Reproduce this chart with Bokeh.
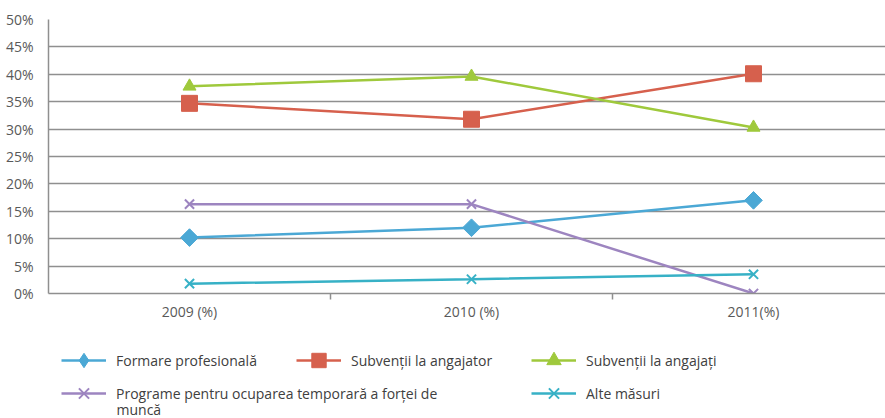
import math
from bokeh.plotting import figure
from bokeh.layouts import column
from bokeh.models import FixedTicker, PrintfTickFormatter, Legend, LegendItem, Label, Range1d
from bokeh.embed import file_html
from bokeh.resources import INLINE

years = ["2009 (%)", "2010 (%)", "2011(%)"]
formare = [10.2, 12.0, 17.0]
angajator = [34.7, 31.8, 40.1]
angajati = [37.8, 39.6, 30.3]
programe = [16.3, 16.3, 0.0]
alte = [1.8, 2.6, 3.5]
y_ticks = [0, 5, 10, 15, 20, 25, 30, 35, 40, 45, 50]

names = ["Formare profesională", "Subvenții la angajator", "Subvenții la angajați",
         "Programe pentru ocuparea temporară a forței de", "Alte măsuri"]
wrap_tail = "muncă"

x = list(range(len(years)))

FONT = "Open Sans"
GRID = "#8f8f8f"
W = 885

p = figure(width=W, height=335, output_backend="svg", toolbar_location=None,
           x_range=Range1d(-0.5, -0.5 + (W - 48) / 282), y_range=Range1d(0, 50),
           min_border_left=48, min_border_right=0, min_border_top=19, min_border_bottom=42)
p.outline_line_color = None
p.xgrid.visible = False
p.ygrid.ticker = FixedTicker(ticks=y_ticks)
p.ygrid.grid_line_color = GRID
p.ygrid.grid_line_width = 1.5

p.yaxis.ticker = FixedTicker(ticks=y_ticks)
p.yaxis.formatter = PrintfTickFormatter(format="%d%%")
p.yaxis.major_tick_line_color = None
p.yaxis.minor_tick_line_color = None
p.yaxis.axis_line_color = GRID
p.yaxis.axis_line_width = 1.5
p.yaxis.major_label_standoff = 9
p.yaxis.major_label_text_font = FONT
p.yaxis.major_label_text_font_size = "14px"
p.yaxis.major_label_text_color = "#595959"

p.xaxis.ticker = FixedTicker(ticks=x, minor_ticks=[0.5, 1.5])
p.xaxis.major_label_overrides = {i: years[i] for i in x}
p.xaxis.major_tick_out = 0
p.xaxis.major_tick_in = 0
p.xaxis.minor_tick_out = 6
p.xaxis.minor_tick_in = 0
p.xaxis.minor_tick_line_color = GRID
p.xaxis.minor_tick_line_width = 1.5
p.xaxis.axis_line_color = GRID
p.xaxis.axis_line_width = 1.5
p.xaxis.major_label_standoff = 2
p.xaxis.major_label_text_font = FONT
p.xaxis.major_label_text_font_size = "14px"
p.xaxis.major_label_text_color = "#595959"

# name, values, colour, chart marker, size, angle, legend marker
series = [
    (names[0], formare, "#4ba8d5", "square", 12.5, math.pi / 4, "diamond"),
    (names[1], angajator, "#d6604d", "square", 16, 0.0, "square"),
    (names[2], angajati, "#9fc93c", "triangle", 13, 0.0, "triangle"),
    (names[3], programe, "#9d85c0", "x", 13, 0.0, "x"),
    (names[4], alte, "#37b1c6", "x", 13, 0.0, "x"),
]

# legend strip: a separate figure so the legend is not clipped by the chart frame.
# Its swatch renderers carry the same series but lie outside its (empty) view.
LH = 418 - 335
p2 = figure(width=W, height=LH, output_backend="svg", toolbar_location=None,
            x_range=Range1d(100, 101), y_range=Range1d(100, 101),
            x_axis_location=None, y_axis_location=None,
            min_border_left=0, min_border_right=0, min_border_top=0, min_border_bottom=0)
p2.grid.visible = False
p2.outline_line_color = None

items = []
for name, vals, col, mk, sz, ang, lmk in series:
    p.line(x, vals, line_color=col, line_width=2.5)
    p.scatter(x, vals, marker=mk, size=sz, angle=ang, fill_color=col,
              line_color=col, line_width=2 if mk == "x" else 1)
    ll = p2.line(x, vals, line_color=col, line_width=2.5)
    ls = p2.scatter(x, vals, marker=lmk, size=sz, fill_color=col,
                    line_color=col, line_width=2 if lmk == "x" else 1)
    items.append(LegendItem(label=name, renderers=[ll, ls]))


def make_legend(its, lw, loc):
    return Legend(items=its, orientation="horizontal", location=loc,
                  glyph_width=45, glyph_height=36, label_standoff=10, label_width=lw,
                  label_height=20, spacing=10, padding=0, margin=0,
                  border_line_color=None, background_fill_alpha=0,
                  label_text_font=FONT, label_text_font_size="14px",
                  label_text_color="#404040")


p2.add_layout(make_legend(items[:3], 170, (13, 40)))
p2.add_layout(make_legend(items[3:], 405, (13, 7)))
p2.add_layout(Label(x=68, y=9, x_units="screen", y_units="screen", text=wrap_tail,
                    text_font=FONT, text_font_size="14px", text_color="#404040",
                    text_baseline="middle"))

open("out.html", "w").write(file_html(column(p, p2), INLINE))
